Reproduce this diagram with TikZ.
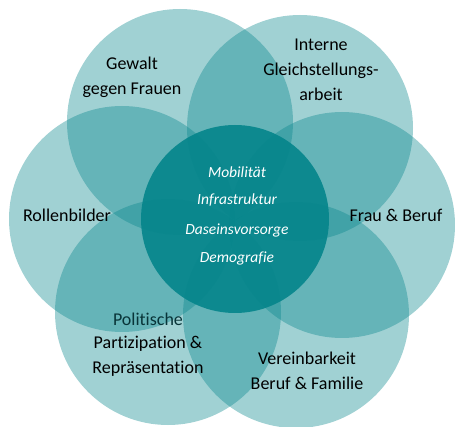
\documentclass[tikz,border=0pt]{standalone}
\usepackage{fontspec}
\setmainfont[Ligatures=NoCommon]{Carlito}
\begin{document}
\begin{tikzpicture}[x=1pt,y=-1pt,
  outer/.style={circle,fill=tealbase,fill opacity=0.38,draw=none,minimum size=226pt,inner sep=0pt},
  inner/.style={circle,fill=tealbase,fill opacity=0.92,draw=none,minimum size=188pt,inner sep=0pt},
  lbl/.style={align=center,text=black,font=\fontsize{18}{25}\selectfont,inner sep=0pt},
  clbl/.style={text=white,font=\fontsize{15.5}{18}\selectfont\itshape,inner sep=0pt}]
\definecolor{tealbase}{RGB}{5,133,139}
\definecolor{darkteal}{RGB}{8,52,56}
\useasboundingbox (0,0) rectangle (455,427);
\node[outer] (cg) at (180,122) {};
\node[outer] (ci) at (300,128) {};
\node[outer] (cf) at (342,225) {};
\node[outer] (cv) at (296,315) {};
\node[outer] (cp) at (168,312) {};
\node[outer] (cr) at (122,219) {};
\node[inner] (cc) at (235,219) {};
\node[lbl] (tg) at (132,77) {Gewalt\\gegen Frauen};
\node[lbl] (ti) at (321,70) {Interne\\Gleichstellungs-\\arbeit};
\node[lbl] (tr) at (67,215) {Rollenbilder};
\node[lbl] (tf) at (396,215) {Frau \& Beruf};
\node[lbl] (tp1) at (148,319) {\textcolor{darkteal}{Politische}};
\node[lbl] (tp) at (148,356) {Partizipation \&\\Repräsentation};
\node[lbl] (tv) at (307,371) {Vereinbarkeit\\Beruf \& Familie};
\node[clbl] (m1) at (237,172) {Mobilität};
\node[clbl] (m2) at (237,200) {Infrastruktur};
\node[clbl] (m3) at (237,230) {Daseinsvorsorge};
\node[clbl] (m4) at (237,258) {Demografie};
\end{tikzpicture}
\end{document}
